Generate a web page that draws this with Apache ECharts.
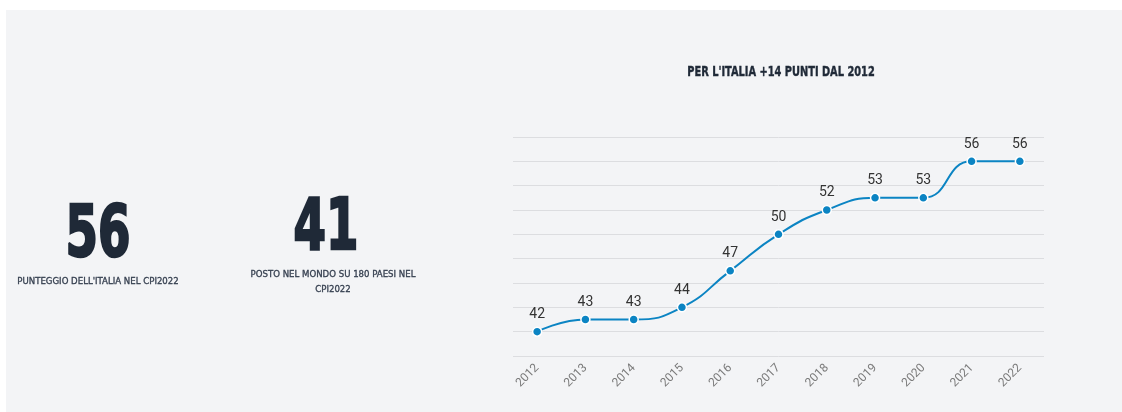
<!DOCTYPE html>
<html>
<head>
<meta charset="utf-8">
<script src="https://cdn.jsdelivr.net/npm/echarts@6/dist/echarts.min.js"></script>
<style>
html,body{margin:0;padding:0;background:#ffffff;}
#chart{width:1122px;height:412px;}
</style>
</head>
<body>
<div id="chart"></div>
<script>
const years = ['2012','2013','2014','2015','2016','2017','2018','2019','2020','2021','2022'];
const scores = [42,43,43,44,47,50,52,53,53,56,56];
const chartTitle = "PER L'ITALIA +14 PUNTI DAL 2012";
const statScore = '56';
const statScoreLabel = "PUNTEGGIO DELL'ITALIA NEL CPI2022";
const statRank = '41';
const statRankLabel = ['POSTO NEL MONDO SU 180 PAESI NEL', 'CPI2022'];

const chart = echarts.init(document.getElementById('chart'), null, {renderer:'canvas'});
const dark = '#1f2937';
const condensed = '"DejaVu Sans Condensed", "DejaVu Sans", sans-serif';

function bigText(txt, cx, top) {
  return {
    type:'text', x:cx, y:top, scaleX:0.72, scaleY:1,
    style:{text:txt, font:'bold 72px ' + condensed, fill:dark, stroke:dark, lineWidth:2.5,
      align:'center', verticalAlign:'top'}
  };
}
function smallText(txt, cx, y) {
  return {
    type:'text', x:cx, y:y, scaleX:1.06,
    style:{text:txt, font:'9px ' + condensed, fill:'#374151', stroke:'#374151', lineWidth:0.3,
      align:'center', verticalAlign:'middle'}
  };
}

chart.setOption({
  backgroundColor:'#ffffff',
  animation:false,
  graphic:[
    {type:'rect', z:-10, shape:{x:6, y:10, width:1116, height:402}, style:{fill:'#f3f4f6'}},
    {type:'text', x:781, y:72, scaleX:0.78,
      style:{text:chartTitle, font:'bold 14px ' + condensed, fill:dark, stroke:dark, lineWidth:0.4,
        align:'center', verticalAlign:'middle'}},
    bigText(statScore, 98, 201),
    smallText(statScoreLabel, 98, 282),
    bigText(statRank, 326, 194),
    smallText(statRankLabel[0], 333, 275),
    smallText(statRankLabel[1], 333, 290)
  ],
  grid:{left:513, right:78, top:137, bottom:56, outerBoundsMode:'none', containLabel:false},
  xAxis:{
    type:'category', data:years, boundaryGap:true,
    axisLine:{show:false}, axisTick:{show:false},
    axisLabel:{rotate:45, color:'#7a7a7a', fontSize:12, margin:10, fontFamily:'Roboto, sans-serif'}
  },
  yAxis:{
    type:'value', min:40, max:58, interval:2,
    axisLine:{show:false}, axisTick:{show:false}, axisLabel:{show:false},
    splitLine:{lineStyle:{color:'#dcdde0', width:1}}
  },
  series:[{
    type:'line', data:scores, smooth:true,
    symbol:'circle', symbolSize:9,
    lineStyle:{color:'#0b84c3', width:2},
    itemStyle:{color:'#0b84c3', borderColor:'#ffffff', borderWidth:1.5},
    label:{show:true, position:'top', distance:5, color:'#333333', fontSize:14, fontFamily:'Roboto, sans-serif'}
  }]
});
</script>
</body>
</html>
